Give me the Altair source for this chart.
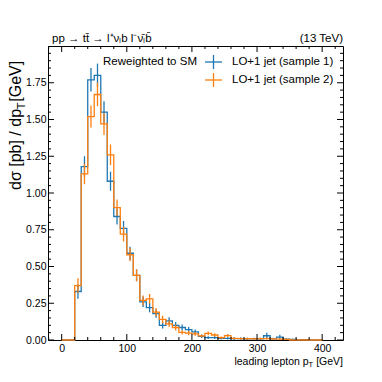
import altair as alt
import pandas as pd

# ---------------- data ----------------
series_names = ["LO+1 jet (sample 1)", "LO+1 jet (sample 2)"]
series_colors = ["#1f77b4", "#ff7f0e"]
bin_edges = list(range(0, 410, 10))  # GeV

sample1 = [0, 0, 0.33, 1.18, 1.77, 1.80, 1.55, 1.08, 0.84, 0.76,
           0.59, 0.44, 0.26, 0.22, 0.18, 0.10, 0.13, 0.10, 0.085, 0.07,
           0.055, 0.025, 0.016, 0.016, 0.011, 0.011, 0.010, 0.010, 0.008, 0.009,
           0.008, 0.029, 0.008, 0.020, 0.005, 0.004, 0.003, 0.002, 0.0, 0.0]
sample1_err = [0, 0, 0.05, 0.07, 0.08, 0.08, 0.075, 0.065, 0.055, 0.05,
               0.045, 0.04, 0.035, 0.032, 0.028, 0.022, 0.025, 0.022, 0.02, 0.018,
               0.016, 0.012, 0.01, 0.01, 0.008, 0.008, 0.008, 0.008, 0.007, 0.007,
               0.007, 0.02, 0.007, 0.015, 0.005, 0.004, 0.003, 0.003, 0, 0]

sample2 = [0, 0, 0.37, 1.13, 1.52, 1.67, 1.47, 1.26, 0.90, 0.72,
           0.58, 0.44, 0.27, 0.28, 0.19, 0.14, 0.11, 0.085, 0.052, 0.047,
           0.042, 0.028, 0.045, 0.034, 0.016, 0.030, 0.011, 0.010, 0.009, 0.008,
           0.010, 0.010, 0.007, 0.006, 0.004, 0, 0, 0, 0, 0]
sample2_err = [0, 0, 0.05, 0.07, 0.075, 0.08, 0.075, 0.07, 0.055, 0.05,
               0.045, 0.04, 0.033, 0.033, 0.028, 0.025, 0.022, 0.02, 0.015, 0.014,
               0.013, 0.01, 0.013, 0.012, 0.008, 0.01, 0.006, 0.006, 0.006, 0.005,
               0.006, 0.006, 0.005, 0.005, 0.004, 0, 0, 0, 0, 0]

x_major = [0, 100, 200, 300, 400]
x_minor = [-20, 20, 40, 60, 80, 120, 140, 160, 180, 220, 240, 260, 280, 320, 340, 360, 380, 420]
y_major = [0, 0.25, 0.5, 0.75, 1.0, 1.25, 1.5, 1.75]
y_minor = [0.05, 0.1, 0.15, 0.2, 0.3, 0.35, 0.4, 0.45, 0.55, 0.6, 0.65, 0.7,
           0.8, 0.85, 0.9, 0.95, 1.05, 1.1, 1.15, 1.2, 1.3, 1.35, 1.4, 1.45,
           1.55, 1.6, 1.65, 1.7, 1.8, 1.85, 1.9, 1.95]

title_left = "pp \u2192 tt\u0304 \u2192 l\u207a\u03bd\u2097b  l\u207b\u03bd\u0304\u2097b\u0304"
title_right = "(13 TeV)"
legend_title = "Reweighted to SM"

W, H = 295, 294
FONT = "Liberation Sans"

# ---------------- tables ----------------
line_rows, err_rows = [], []
for name, vals, errs in [(series_names[0], sample1, sample1_err),
                         (series_names[1], sample2, sample2_err)]:
    for i, v in enumerate(vals):
        line_rows.append({"series": name, "x": bin_edges[i], "y": v, "o": i})
        if v > 0:
            c = 0.5 * (bin_edges[i] + bin_edges[i + 1])
            err_rows.append({"series": name, "xc": c, "lo": max(v - errs[i], 0), "hi": v + errs[i]})
    line_rows.append({"series": name, "x": bin_edges[-1], "y": vals[-1], "o": len(vals)})
line_df = pd.DataFrame(line_rows)
err_df = pd.DataFrame(err_rows)

xscale = alt.Scale(domain=[-21, 432], nice=False, zero=False)
yscale = alt.Scale(domain=[0, 2.0], nice=False, zero=False)
color = alt.Color("series:N", scale=alt.Scale(domain=series_names, range=series_colors), legend=None)

xaxis = alt.Axis(values=x_major, format="d", tickSize=0, domain=False, grid=False,
                 labelFont=FONT, labelFontSize=10.5, labelColor="black", labelPadding=3, title=None)
yaxis = alt.Axis(values=y_major, format=".2f", tickSize=0, domain=False, grid=False,
                 labelFont=FONT, labelFontSize=10.5, labelColor="black", labelPadding=2, title=None)

def X(f):
    return alt.X(f, scale=xscale, axis=xaxis)

def Y(f):
    return alt.Y(f, scale=yscale, axis=yaxis)

layers = []
for name in series_names:
    d = line_df[line_df.series == name]
    e = err_df[err_df.series == name]
    layers.append(
        alt.Chart(d).mark_line(interpolate="step-after", strokeWidth=1.3).encode(
            x=X("x:Q"), y=Y("y:Q"), order="o:Q", color=color)
    )
    layers.append(
        alt.Chart(e).mark_rule(strokeWidth=1.3).encode(
            x=X("xc:Q"), y=Y("lo:Q"), y2="hi:Q", color=color)
    )

# inward ticks
def xticks(vals, length, top):
    df = pd.DataFrame({"v": vals})
    y0 = 0 if top else H
    y1 = length if top else H - length
    return alt.Chart(df).mark_rule(color="black", strokeWidth=1).encode(
        x=X("v:Q"), y=alt.value(y0), y2=alt.value(y1))

def yticks(vals, length, right):
    df = pd.DataFrame({"v": vals})
    x0 = W if right else 0
    x1 = W - length if right else length
    return alt.Chart(df).mark_rule(color="black", strokeWidth=1).encode(
        y=Y("v:Q"), x=alt.value(x0), x2=alt.value(x1))

for top in (False, True):
    layers.append(xticks(x_major, 6, top))
    layers.append(xticks(x_minor, 3, top))
for right in (False, True):
    layers.append(yticks(y_major, 6, right))
    layers.append(yticks(y_minor, 3, right))

def text(t, x, y, size, align="left", baseline="middle", angle=0):
    kw = dict(text=t, font=FONT, fontSize=size, align=align, baseline=baseline, color="black")
    if angle:
        kw["angle"] = angle
    return alt.Chart(pd.DataFrame({"a": [0]})).mark_text(**kw).encode(
        x=alt.value(x), y=alt.value(y))

# header
layers.append(text(title_left, 4, -4, 11.5, baseline="alphabetic"))
layers.append(text(title_right, W, -4, 11.5, align="right", baseline="alphabetic"))

# x title with subscript
xb = 318.5
layers.append(text(" [GeV]", W, xb, 10.5, align="right", baseline="alphabetic"))
layers.append(text("T", W - 29.8, xb + 2.5, 7.5, align="right", baseline="alphabetic"))
layers.append(text("leading lepton p", W - 34.4, xb, 10.5, align="right", baseline="alphabetic"))

# y title with subscript (rotated)
ys = 16
layers.append(text("d\u03c3 [pb] / dp", -27, 144, ys, baseline="alphabetic", angle=270))
layers.append(text("T", -23.5, 144 - 80.8, 11, baseline="alphabetic", angle=270))
layers.append(text(" [GeV]", -27, 144 - 80.8 - 7.5, ys, baseline="alphabetic", angle=270))

# legend
layers.append(text(legend_title, 55, 16, 11.5))
for k, (name, col) in enumerate(zip(series_names, series_colors)):
    yc = 16 + 18 * k
    layers.append(alt.Chart(pd.DataFrame({"a": [0]})).mark_rule(color=col, strokeWidth=1.3).encode(
        x=alt.value(157), x2=alt.value(174), y=alt.value(yc)))
    layers.append(alt.Chart(pd.DataFrame({"a": [0]})).mark_rule(color=col, strokeWidth=1.3).encode(
        x=alt.value(165.5), y=alt.value(yc - 7), y2=alt.value(yc + 7)))
    layers.append(text(name, 184, yc, 11.5))

chart = alt.layer(*layers).properties(
    width=W, height=H,
    autosize=alt.AutoSizeParams(type="none"),
    padding={"left": 40, "top": 38, "right": 10, "bottom": 30},
).configure_view(stroke="black", strokeWidth=1)

chart.save("out.html", embed_options={"renderer": "svg", "actions": False})
